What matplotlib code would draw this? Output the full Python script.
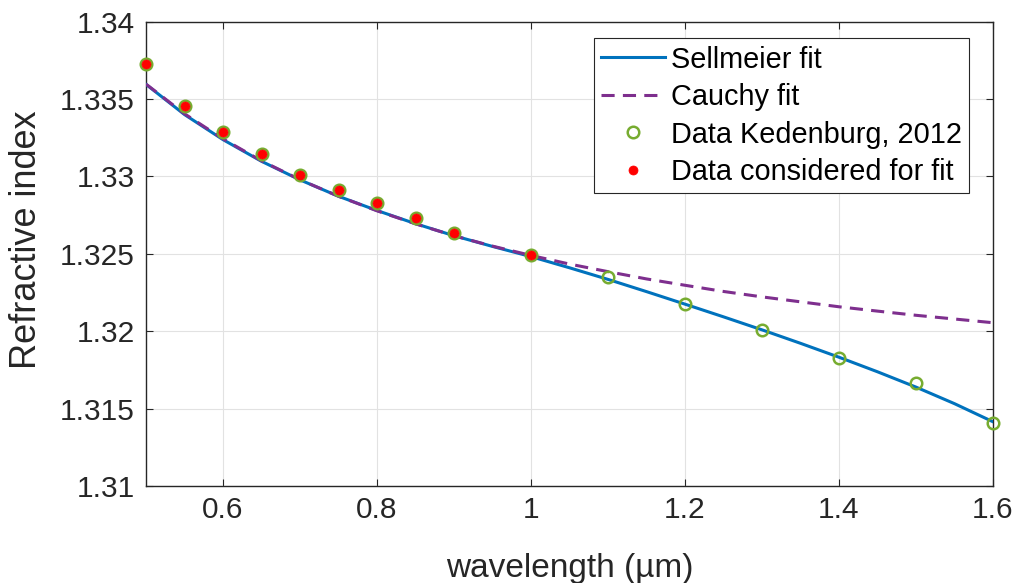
import matplotlib
matplotlib.use("Agg")
import matplotlib.pyplot as plt

# Measured refractive index of water (Kedenburg et al., 2012)
wavelength_data = [0.50, 0.55, 0.60, 0.65, 0.70, 0.75, 0.80, 0.85, 0.90, 1.00,
                   1.10, 1.20, 1.30, 1.40, 1.50, 1.60]
n_data = [1.33725, 1.33455, 1.33285, 1.33145, 1.33011, 1.32912, 1.32826, 1.32729,
          1.32632, 1.32492, 1.32351, 1.32179, 1.32009, 1.31828, 1.31666, 1.31407]

# Subset of the data used for fitting (visible range up to 1 um)
wavelength_fit = [0.50, 0.55, 0.60, 0.65, 0.70, 0.75, 0.80, 0.85, 0.90, 1.00]
n_fit = [1.33725, 1.33455, 1.33285, 1.33145, 1.33011, 1.32912, 1.32826, 1.32729,
         1.32632, 1.32492]

# Fitted dispersion curves sampled on a wavelength grid
wavelength_curve = [0.50, 0.55, 0.60, 0.65, 0.70, 0.75, 0.80, 0.85, 0.90, 0.95,
                    1.00, 1.05, 1.10, 1.15, 1.20, 1.25, 1.30, 1.35, 1.40, 1.45,
                    1.50, 1.55, 1.60]
n_sellmeier = [1.33595, 1.33400, 1.33238, 1.33098, 1.32978, 1.32872, 1.32780,
               1.32695, 1.32617, 1.32548, 1.32482, 1.32410, 1.32335, 1.32256,
               1.32175, 1.32093, 1.32009, 1.31922, 1.31832, 1.31738, 1.31639,
               1.31532, 1.31415]
n_cauchy = [1.33597, 1.33405, 1.33243, 1.33101, 1.32979, 1.32872, 1.32778,
            1.32694, 1.32617, 1.32550, 1.32490, 1.32434, 1.32385, 1.32338,
            1.32297, 1.32257, 1.32222, 1.32190, 1.32158, 1.32130, 1.32103,
            1.32079, 1.32055]

xticks = [0.6, 0.8, 1.0, 1.2, 1.4, 1.6]
xtick_labels = ["0.6", "0.8", "1", "1.2", "1.4", "1.6"]
yticks = [1.31, 1.315, 1.32, 1.325, 1.33, 1.335, 1.34]
ytick_labels = ["1.31", "1.315", "1.32", "1.325", "1.33", "1.335", "1.34"]

plt.rcParams['font.family'] = ['Liberation Sans', 'DejaVu Sans']
text_color = '#262626'

W, H = 1017, 583
fig = plt.figure(figsize=(W / 100, H / 100), dpi=100)
ax = fig.add_axes([146 / W, 1 - 486 / H, (993 - 146) / W, (486 - 21.7) / H])

ax.plot(wavelength_curve, n_sellmeier, color='#0072BD', lw=2.2,
        label='Sellmeier fit', zorder=3)
ax.plot(wavelength_curve, n_cauchy, color='#7E2F8E', lw=2.2, ls=(0, (4.3, 2.7)),
        dash_capstyle='butt', label='Cauchy fit', zorder=3)
ax.plot(wavelength_data, n_data, ls='none', marker='o', ms=8.3,
        mfc='none', mec='#77AC30', mew=1.8, label='Data Kedenburg, 2012',
        zorder=4, clip_on=False)
ax.plot(wavelength_fit, n_fit, ls='none', marker='o', ms=6.5,
        mfc='#FF0000', mec='#FF0000', mew=0.5, label='Data considered for fit',
        zorder=5, clip_on=False)

ax.set_xlim(0.5, 1.6)
ax.set_ylim(1.31, 1.34)
ax.set_xticks(xticks)
ax.set_xticklabels(xtick_labels)
ax.set_yticks(yticks)
ax.set_yticklabels(ytick_labels)

ax.grid(True, color='#e2e2e2', lw=0.8, zorder=0)
ax.set_axisbelow(True)
for s in ax.spines.values():
    s.set_color(text_color)
    s.set_linewidth(1.0)
ax.tick_params(direction='in', length=5, width=0.8, color=text_color,
               labelcolor=text_color, labelsize=21.5, top=True, right=True)
ax.tick_params(axis='x', pad=7)
ax.tick_params(axis='y', pad=8)

ax.set_xlabel('wavelength (\u00b5m)', fontsize=24, color=text_color, va='center')
ax.xaxis.set_label_coords(0.5, (486 - 568) / 464.3)
ax.set_ylabel('Refractive index', fontsize=26, color=text_color, va='center')
ax.yaxis.set_label_coords((27 - 146) / 847, (486 - 240) / 464.3)

leg = ax.legend(loc='upper right', bbox_to_anchor=(969 / W, 1 - 38.3 / H),
                bbox_transform=fig.transFigure, fontsize=20.8, fancybox=False,
                framealpha=1, edgecolor=text_color, handlelength=2.2,
                handletextpad=0.2, labelspacing=0.33, borderpad=0.25,
                borderaxespad=0)
leg.get_frame().set_linewidth(0.8)

fig.savefig('out.png', dpi=100)
